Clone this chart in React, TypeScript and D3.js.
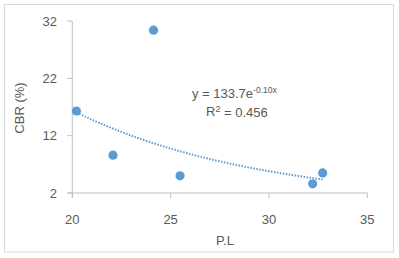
import React from "react";
import * as d3 from "d3";

const plValues = [20.21, 22.07, 24.13, 25.48, 32.22, 32.73];
const cbrValues = [16.3, 8.6, 30.4, 5.0, 3.6, 5.5];
const xTicks = [20, 25, 30, 35];
const yTicks = [2, 12, 22, 32];
const eqText = "y = 133.7e";
const eqExp = "-0.10x";
const r2Text = " = 0.456";

const W = 399;
const H = 258;
const FONT = "'Liberation Sans', Arial, sans-serif";

export default function App() {
  const x = d3.scaleLinear().domain([20, 35]).range([72.3, 367.3]);
  const y = d3.scaleLinear().domain([2, 32]).range([193, 21]);

  // exponential fit on ln(y)
  const lx = plValues;
  const ly = cbrValues.map((v) => Math.log(v));
  const mx = d3.mean(lx) as number;
  const my = d3.mean(ly) as number;
  let sxy = 0,
    sxx = 0;
  lx.forEach((v, i) => {
    sxy += (v - mx) * (ly[i] - my);
    sxx += (v - mx) * (v - mx);
  });
  const b = sxy / sxx;
  const a = Math.exp(my - b * mx);
  const [x0, x1] = d3.extent(plValues) as [number, number];
  const pts = d3.range(0, 101).map((i) => {
    const xv = x0 + ((x1 - x0) * i) / 100;
    return [xv, a * Math.exp(b * xv)] as [number, number];
  });
  const line = d3
    .line<[number, number]>()
    .x((d) => x(d[0]))
    .y((d) => y(d[1]));

  const textColor = "#595959";
  const axisColor = "#bfbfbf";

  return (
    <svg
      width={W}
      height={H}
      style={{ position: "absolute", left: 0, top: 0, fontFamily: FONT }}
    >
      <rect x={0} y={0} width={W} height={H} fill="#fff" />
      <rect x={4.5} y={4.5} width={389} height={247.5} fill="#fff" stroke="#d9d9d9" />
      {/* axes */}
      <line x1={x(20)} x2={x(20)} y1={y(32)} y2={y(2) + 5} stroke={axisColor} />
      <line x1={x(20) - 5} x2={x(35)} y1={y(2)} y2={y(2)} stroke={axisColor} />
      {yTicks.map((t) => (
        <g key={"y" + t}>
          <line x1={x(20) - 5} x2={x(20)} y1={y(t)} y2={y(t)} stroke={axisColor} />
          <text
            x={57}
            y={y(t)}
            dy="0.35em"
            textAnchor="end"
            fontSize={13}
            fill={textColor}
          >
            {t}
          </text>
        </g>
      ))}
      {xTicks.map((t) => (
        <g key={"x" + t}>
          <line x1={x(t)} x2={x(t)} y1={y(2)} y2={y(2) + 5} stroke={axisColor} />
          <text
            x={x(t)}
            y={219}
            dy="0.35em"
            textAnchor="middle"
            fontSize={13}
            fill={textColor}
          >
            {t}
          </text>
        </g>
      ))}
      <text
        transform="translate(19.5,108) rotate(-90)"
        textAnchor="middle"
        dy="0.35em"
        fontSize={13}
        fill={textColor}
      >
        CBR (%)
      </text>
      <text x={225} y={240} dy="0.35em" textAnchor="middle" fontSize={13} fill={textColor}>
        P.L
      </text>
      {/* trendline */}
      <path
        d={line(pts) || ""}
        fill="none"
        stroke="#5b9bd5"
        strokeWidth={2}
        strokeDasharray="1.5 1.5"
      />
      {/* points */}
      {plValues.map((v, i) => (
        <circle key={i} cx={x(v)} cy={y(cbrValues[i])} r={4.6} fill="#5b9bd5" />
      ))}
      {/* equation */}
      <text x={192} y={93} dy="0.35em" fontSize={13} fill={textColor}>
        {eqText}
        <tspan fontSize={8.5} dy="-0.5em">
          {eqExp}
        </tspan>
      </text>
      <text x={206} y={111} dy="0.35em" fontSize={13} fill={textColor}>
        R
        <tspan fontSize={9} dy="-0.45em">
          2
        </tspan>
        <tspan dy="0.45em">{r2Text}</tspan>
      </text>
    </svg>
  );
}
